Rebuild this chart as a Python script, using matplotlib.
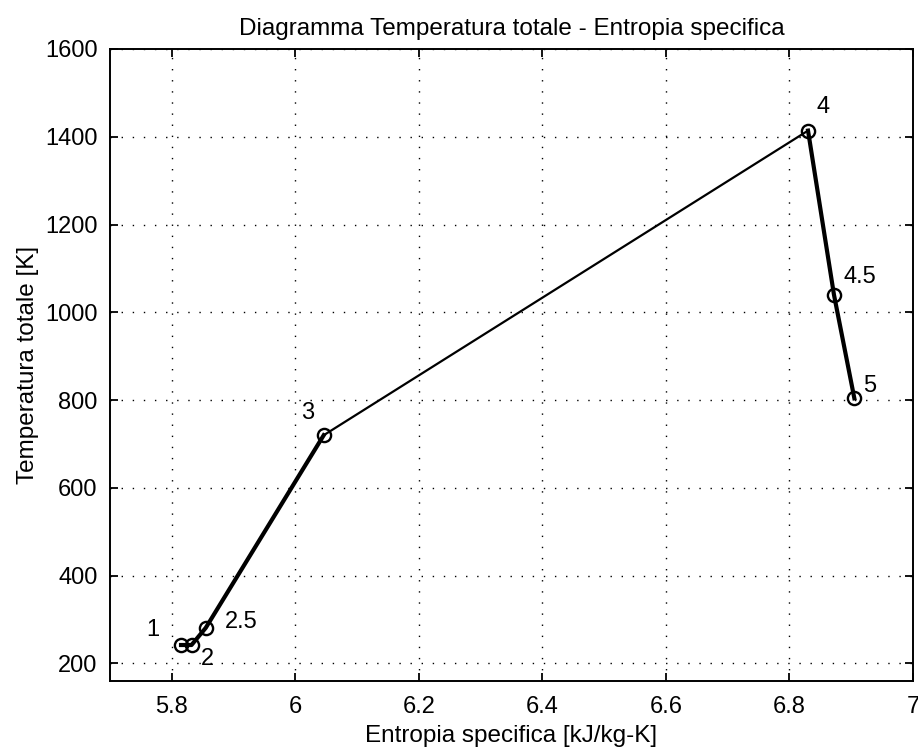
import matplotlib
matplotlib.use("Agg")
import matplotlib.pyplot as plt
from matplotlib.ticker import FormatStrFormatter

plt.rcParams['font.family'] = ['Liberation Sans', 'DejaVu Sans']

# punti del ciclo (entropia specifica, temperatura totale)
punti = ["1", "2", "2.5", "3", "4", "4.5", "5"]
s_spec = [5.815, 5.832, 5.855, 6.046, 6.830, 6.872, 6.905]
T_tot = [242, 242, 281, 720, 1414, 1040, 804]

# spostamento delle etichette rispetto al punto (in punti tipografici)
off_lab = [(-25, 11), (7, -10), (14, 4), (-16, 16), (6, 17), (7, 13), (6, 9)]

x_ticks = [5.8, 6.0, 6.2, 6.4, 6.6, 6.8, 7.0]
y_ticks = [200, 400, 600, 800, 1000, 1200, 1400, 1600]

FS = 17.5

fig = plt.figure(figsize=(9.18, 7.49), dpi=100)
ax = fig.add_axes([0.1198, 0.0908, 0.8748, 0.8438])

# compressione (1 -> 3), combustione (3 -> 4), espansione (4 -> 5)
ax.plot(s_spec[0:4], T_tot[0:4], color="black", lw=3.0)
ax.plot(s_spec[3:5], T_tot[3:5], color="black", lw=1.6)
ax.plot(s_spec[4:7], T_tot[4:7], color="black", lw=3.0)
ax.plot(s_spec, T_tot, linestyle="none", marker="o", markersize=9.5,
        markerfacecolor="none", markeredgecolor="black", markeredgewidth=1.7)

for nome, x, y, off in zip(punti, s_spec, T_tot, off_lab):
    ax.annotate(nome, (x, y), xytext=off, textcoords="offset points",
                ha="left", va="center", fontsize=17)

ax.set_xlim(5.7, 7.0)
ax.set_ylim(160, 1600)
ax.set_xticks(x_ticks)
ax.set_yticks(y_ticks)
ax.xaxis.set_major_formatter(FormatStrFormatter('%g'))
ax.tick_params(direction="in", length=6, width=1.3, top=True, right=True,
               labelsize=17, pad=9)
ax.tick_params(axis="x", pad=11)
ax.grid(True, color="black", linestyle=(0, (1, 7)), linewidth=1.0)
for sp in ax.spines.values():
    sp.set_linewidth(1.4)

ax.set_title("Diagramma Temperatura totale - Entropia specifica", fontsize=FS, pad=10)
ax.set_xlabel("Entropia specifica [kJ/kg-K]", fontsize=FS, labelpad=5)
ax.set_ylabel("Temperatura totale [K]", fontsize=FS, labelpad=4)

fig.savefig("out.png", dpi=100, facecolor="white")
